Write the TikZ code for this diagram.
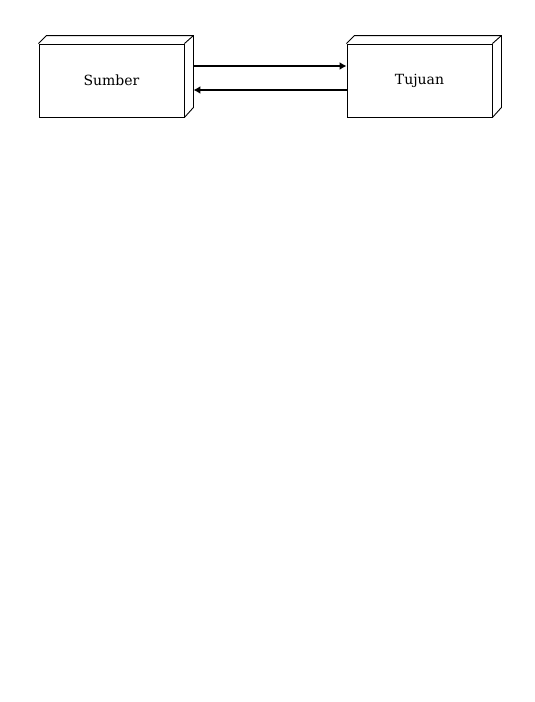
\documentclass[tikz,border=0pt]{standalone}
\usepackage{fontspec}
\setmainfont{DejaVu Serif}
\usetikzlibrary{arrows.meta}

\begin{document}
\begin{tikzpicture}[x=1pt,y=1pt]
        \tikzstyle{every node} = [rectangle]
        \tikzstyle{kotak} = [draw, line width=0.9pt, minimum width=145pt, minimum height=73pt, font=\fontsize{14}{16}\selectfont]
        \useasboundingbox (0,0) rectangle (535,-702);
        \node[kotak] (sumber) at (111.5,-80.5) {Sumber};
        \node[kotak] (tujuan) at (419.5,-80.5) {Tujuan};
        % sisi belakang kotak
        \draw[line width=0.9pt] (sumber.north west) -- ++(8,8) -| ([shift={(9,10)}]sumber.south east) -- (sumber.south east);
        \draw[line width=0.9pt] (sumber.north east) -- ++(9,8);
        \draw[line width=0.9pt] (tujuan.north west) -- ++(8,8) -| ([shift={(9,10)}]tujuan.south east) -- (tujuan.south east);
        \draw[line width=0.9pt] (tujuan.north east) -- ++(9,8);
        % panah
        \draw[line width=1.4pt, -{Latex[length=7pt,width=8pt]}] ([shift={(9,14.5)}]sumber.east) -- ([yshift=14.5]tujuan.west);
        \draw[line width=1.4pt, -{Latex[length=7pt,width=8pt]}] ([yshift=-9.5]tujuan.west) -- ([shift={(9,-9.5)}]sumber.east);
\end{tikzpicture}
\end{document}
